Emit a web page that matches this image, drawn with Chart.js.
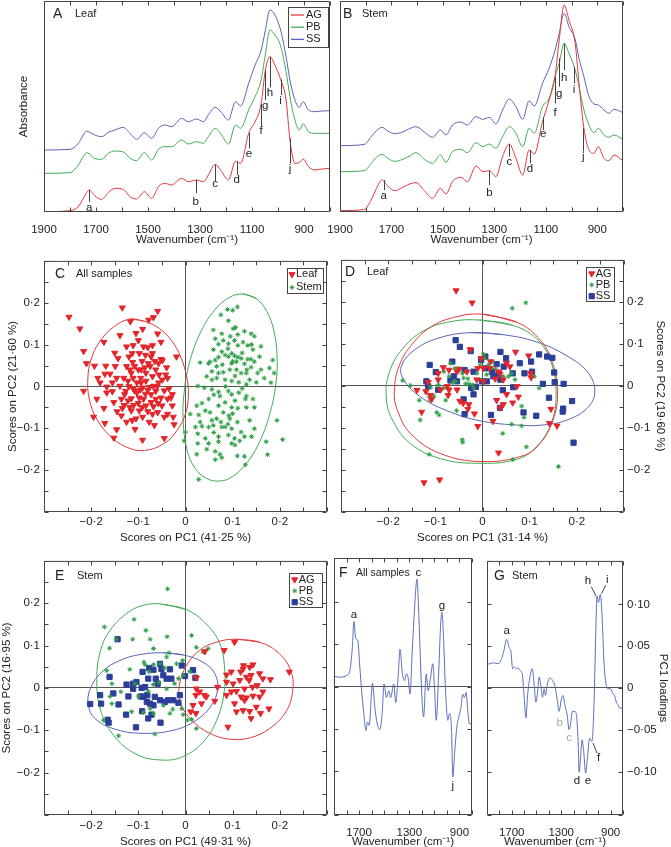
<!DOCTYPE html>
<html>
<head>
<meta charset="utf-8">
<script src="https://cdn.jsdelivr.net/npm/chart.js@4.4.1/dist/chart.umd.min.js"></script>
<style>
body { margin: 0; background: #fff; width: 671px; height: 847px; overflow: hidden; position: relative; }
canvas { position: absolute; }
</style>
</head>
<body>
<canvas id="cA" style="left:0;top:0" width="333" height="252"></canvas>
<canvas id="cB" style="left:320px;top:0" width="306" height="252"></canvas>
<canvas id="cC" style="left:0;top:250px" width="332" height="296"></canvas>
<canvas id="cD" style="left:336px;top:250px" width="335" height="296"></canvas>
<canvas id="cE" style="left:0;top:550px" width="332" height="300"></canvas>
<canvas id="cF" style="left:330px;top:550px" width="145" height="300"></canvas>
<canvas id="cG" style="left:483px;top:550px" width="188" height="300"></canvas>
<script>
// ---- spectra (A leaf, B stem) ----
const wnA = [1900,1800,1768,1749,1736,1726,1704,1678,1653,1627,1595,1569,1544,1514,1486,1460,1435,1409,1371,1345,1313,1287,1268,1242,1217,1191,1163,1144,1112,1088,1065,1049,1031,1012,990,969,954,935,918,903,883,858,832,800];
const agLeaf = [0.001,0.004,0.016,0.041,0.058,0.066,0.048,0.038,0.058,0.071,0.068,0.046,0.039,0.061,0.041,0.076,0.086,0.081,0.101,0.091,0.096,0.091,0.111,0.143,0.121,0.096,0.153,0.146,0.238,0.271,0.324,0.424,0.466,0.441,0.398,0.336,0.216,0.146,0.148,0.159,0.136,0.126,0.129,0.131];
const pbLeaf = [0.116,0.118,0.141,0.166,0.178,0.174,0.160,0.158,0.176,0.183,0.180,0.161,0.154,0.178,0.156,0.188,0.196,0.196,0.216,0.204,0.211,0.206,0.226,0.251,0.231,0.204,0.261,0.251,0.308,0.346,0.396,0.471,0.546,0.531,0.498,0.421,0.346,0.276,0.246,0.264,0.241,0.236,0.236,0.236];
const ssLeaf = [0.186,0.188,0.206,0.231,0.243,0.240,0.231,0.226,0.239,0.246,0.254,0.236,0.218,0.238,0.221,0.251,0.261,0.256,0.281,0.271,0.279,0.271,0.291,0.314,0.298,0.276,0.331,0.318,0.388,0.441,0.484,0.544,0.606,0.591,0.546,0.466,0.396,0.336,0.314,0.331,0.306,0.301,0.303,0.304];

const wnB = [1900,1805,1779,1758,1737,1714,1688,1656,1630,1605,1572,1540,1510,1488,1463,1430,1405,1371,1345,1319,1294,1268,1242,1216,1190,1165,1145,1113,1087,1064,1048,1029,1010,986,971,952,932,913,896,874,855,835,800];
const agStem = [0.004,0.008,0.036,0.071,0.096,0.078,0.064,0.074,0.084,0.088,0.064,0.041,0.071,0.054,0.091,0.104,0.091,0.138,0.121,0.124,0.106,0.166,0.204,0.161,0.111,0.186,0.174,0.271,0.336,0.408,0.516,0.621,0.576,0.506,0.386,0.251,0.186,0.176,0.196,0.161,0.154,0.171,0.154];
const pbStem = [0.121,0.124,0.146,0.164,0.173,0.161,0.152,0.158,0.168,0.178,0.158,0.146,0.171,0.149,0.181,0.188,0.178,0.208,0.196,0.204,0.191,0.226,0.256,0.236,0.196,0.251,0.236,0.316,0.341,0.406,0.446,0.506,0.476,0.426,0.376,0.306,0.261,0.238,0.251,0.231,0.224,0.231,0.218];
const ssStem = [0.199,0.203,0.226,0.244,0.254,0.243,0.235,0.240,0.250,0.256,0.240,0.224,0.246,0.231,0.261,0.270,0.261,0.286,0.278,0.284,0.264,0.306,0.339,0.316,0.278,0.334,0.318,0.386,0.431,0.486,0.536,0.596,0.556,0.518,0.461,0.406,0.346,0.324,0.321,0.306,0.296,0.308,0.298];

// band markers a-j
const peakLetters = ['a','b','c','d','e','f','g','h','i','j'];
const peakWnA  = [1726,1317,1242,1159,1112,1065,1049,1031,990,954];
const peakTopA = [0.066,0.096,0.141,0.151,0.238,0.324,0.424,0.466,0.398,0.221];
const peakBotA = [0.031,0.056,0.091,0.111,0.191,0.256,0.336,0.374,0.351,0.146];
const peakTxtA = [0.014,0.031,0.086,0.096,0.174,0.244,0.318,0.358,0.334,0.131];
const peakWnB  = [1730,1319,1242,1162,1110,1064,1048,1029,990,954];
const peakTopB = [0.096,0.124,0.204,0.186,0.285,0.406,0.461,0.506,0.436,0.251];
const peakBotB = [0.066,0.081,0.166,0.146,0.246,0.326,0.376,0.426,0.386,0.181];
const peakTxtB = [0.048,0.058,0.151,0.131,0.234,0.298,0.356,0.404,0.368,0.166];

// ---- PCA scores ----
const cLeaf = [[-0.247,0.166],[-0.224,0.138],[-0.216,0.084],[-0.210,0.055],[-0.216,-0.011],[-0.195,-0.073],[-0.188,-0.030],[-0.193,0.049],[-0.186,0.020],[-0.169,0.049],[-0.171,0.030],[-0.167,-0.015],[-0.173,-0.052],[-0.171,-0.088],[-0.173,0.106],[-0.149,0.048],[-0.146,0.020],[-0.155,-0.012],[-0.152,-0.038],[-0.146,-0.103],[-0.152,-0.123],[-0.139,0.122],[-0.134,0.188],[-0.117,0.155],[-0.120,0.071],[-0.125,0.048],[-0.131,0.020],[-0.127,-0.011],[-0.136,-0.030],[-0.134,-0.052],[-0.136,-0.070],[-0.125,-0.085],[-0.118,-0.050],[-0.113,-0.081],[-0.107,-0.102],[-0.091,-0.128],[-0.113,0.079],[-0.111,0.098],[-0.105,0.127],[-0.091,0.137],[-0.078,0.159],[-0.068,0.165],[-0.059,0.180],[-0.070,0.098],[-0.080,0.093],[-0.089,0.095],[-0.098,0.079],[-0.079,0.055],[-0.070,0.079],[-0.059,0.126],[-0.057,0.055],[-0.052,0.065],[-0.049,0.062],[-0.056,0.028],[-0.042,0.028],[-0.038,0.020],[-0.049,0.016],[-0.057,0.009],[-0.068,0.001],[-0.080,-0.009],[-0.091,-0.003],[-0.103,0.009],[-0.111,0.020],[-0.103,-0.015],[-0.098,-0.027],[-0.089,-0.030],[-0.084,-0.046],[-0.073,-0.038],[-0.063,-0.030],[-0.052,-0.027],[-0.050,-0.046],[-0.059,-0.062],[-0.070,-0.066],[-0.077,-0.085],[-0.066,-0.093],[-0.045,-0.073],[-0.038,-0.030],[-0.031,-0.027],[-0.028,-0.019],[-0.024,-0.091],[-0.045,-0.124],[-0.019,0.071],[-0.052,0.106],[-0.070,0.024],[-0.084,0.032],[-0.094,0.040],[-0.108,0.048],[-0.115,0.032],[-0.122,0.013],[-0.111,-0.005],[-0.129,-0.019],[-0.139,0.001],[-0.155,0.009],[-0.167,-0.001],[-0.181,0.009],[-0.143,0.067],[-0.122,-0.034],[-0.115,-0.058],[-0.098,-0.058],[-0.091,-0.073],[-0.105,-0.077],[-0.073,-0.019],[-0.063,-0.011],[-0.084,0.013],[-0.094,0.009],[-0.115,-0.029],[-0.073,0.071],[-0.063,0.040],[-0.028,-0.046],[-0.038,-0.066],[-0.026,-0.073],[-0.118,0.040],[-0.112,0.058],[-0.100,0.040],[-0.092,0.060],[-0.086,0.045],[-0.075,0.048],[-0.065,0.060],[-0.120,0.000],[-0.108,-0.010],[-0.096,-0.008],[-0.085,-0.018],[-0.076,-0.002],[-0.060,0.000],[-0.130,-0.045],[-0.110,-0.045],[-0.100,-0.040],[-0.092,-0.050],[-0.080,-0.060],[-0.068,-0.048],[-0.058,-0.040],[-0.145,-0.060],[-0.160,0.030],[-0.150,0.080],[-0.100,0.110],[-0.085,0.075],[-0.040,0.045],[-0.035,-0.005],[-0.045,-0.010],[-0.125,0.095],[-0.095,0.020]];
const cStem = [[0.110,0.190],[0.100,0.182],[0.089,0.184],[0.075,0.171],[0.091,0.157],[0.106,0.141],[0.101,0.138],[0.059,0.135],[0.077,0.126],[0.125,0.132],[0.139,0.126],[0.146,0.120],[0.111,0.124],[0.063,0.114],[0.104,0.110],[0.122,0.106],[0.132,0.098],[0.111,0.098],[0.070,0.101],[0.091,0.102],[0.160,0.096],[0.143,0.088],[0.059,0.088],[0.077,0.083],[0.098,0.079],[0.104,0.073],[0.111,0.070],[0.118,0.067],[0.132,0.065],[0.139,0.065],[0.091,0.071],[0.084,0.075],[0.070,0.070],[0.063,0.063],[0.052,0.059],[0.031,0.057],[0.066,0.048],[0.078,0.052],[0.098,0.055],[0.108,0.059],[0.125,0.054],[0.139,0.046],[0.146,0.059],[0.157,0.071],[0.185,0.063],[0.178,0.044],[0.160,0.040],[0.153,0.032],[0.129,0.032],[0.118,0.032],[0.108,0.040],[0.094,0.040],[0.080,0.034],[0.070,0.032],[0.056,0.036],[0.049,0.055],[0.045,0.024],[0.066,0.020],[0.084,0.016],[0.098,0.013],[0.113,0.010],[0.136,0.016],[0.167,0.020],[0.188,0.032],[0.181,0.009],[0.129,0.005],[0.026,0.001],[0.040,-0.003],[0.056,-0.007],[0.070,-0.013],[0.091,-0.011],[0.098,-0.019],[0.113,-0.015],[0.129,-0.023],[0.127,-0.030],[0.143,-0.030],[0.105,-0.034],[0.084,-0.038],[0.049,-0.030],[0.024,-0.046],[0.042,-0.058],[0.070,-0.046],[0.098,-0.050],[0.111,-0.052],[0.129,-0.050],[0.146,-0.050],[0.092,-0.070],[0.094,-0.077],[0.080,-0.062],[0.010,-0.066],[0.028,-0.068],[0.056,-0.081],[0.066,-0.077],[0.110,-0.085],[0.136,-0.081],[0.194,-0.081],[0.021,-0.097],[0.035,-0.095],[0.049,-0.097],[0.059,-0.093],[0.077,-0.097],[0.084,-0.097],[0.098,-0.101],[0.118,-0.109],[0.146,-0.101],[0.125,-0.120],[0.000,-0.109],[0.026,-0.113],[0.042,-0.124],[0.070,-0.120],[0.091,-0.116],[0.104,-0.124],[0.098,-0.136],[0.105,-0.140],[0.070,-0.132],[0.049,-0.136],[0.026,-0.136],[-0.003,-0.130],[0.171,-0.132],[0.206,-0.127],[0.024,-0.162],[0.063,-0.155],[0.073,-0.162],[0.077,-0.170],[0.063,-0.175],[0.110,-0.166],[0.125,-0.167],[0.174,-0.163],[0.127,-0.187],[0.028,-0.222],[0.056,0.016],[0.031,-0.085],[0.052,-0.062],[0.073,-0.023],[0.100,0.060],[0.120,0.080],[0.090,0.090],[0.130,0.040],[0.105,0.025],[0.085,0.000],[0.120,-0.005],[0.060,-0.020],[0.075,-0.085],[0.090,-0.090],[0.060,-0.110],[0.115,-0.130],[0.140,0.100],[0.080,0.110],[0.095,0.120],[0.150,0.010],[0.035,-0.040],[0.100,-0.065],[0.140,-0.120],[0.045,-0.150]];
const cLeafEll = [[-0.118,0.161],[-0.085,0.155],[-0.055,0.138],[-0.030,0.110],[-0.010,0.070],[0.003,0.020],[0.006,-0.023],[0.000,-0.065],[-0.018,-0.105],[-0.045,-0.136],[-0.087,-0.153],[-0.125,-0.145],[-0.160,-0.118],[-0.188,-0.078],[-0.204,-0.030],[-0.207,0.020],[-0.200,0.065],[-0.183,0.105],[-0.155,0.140]];
const cStemEll = [[0.122,0.221],[0.150,0.210],[0.172,0.180],[0.187,0.135],[0.194,0.075],[0.192,0.010],[0.180,-0.060],[0.160,-0.125],[0.132,-0.180],[0.100,-0.215],[0.073,-0.226],[0.045,-0.220],[0.020,-0.195],[0.003,-0.150],[-0.005,-0.080],[-0.003,-0.015],[0.008,0.055],[0.030,0.125],[0.060,0.180],[0.092,0.212]];

const dAG = [[-0.056,0.227],[-0.022,0.198],[0.070,0.081],[0.098,0.072],[-0.026,0.087],[-0.003,0.066],[0.017,0.058],[0.051,0.054],[0.058,0.046],[0.034,0.034],[0.016,0.042],[0.002,0.042],[-0.010,0.042],[-0.033,0.034],[-0.050,0.040],[-0.054,0.034],[-0.071,0.038],[-0.083,0.044],[-0.094,0.030],[-0.094,0.015],[-0.115,0.009],[-0.139,-0.010],[-0.120,-0.013],[-0.110,-0.022],[-0.089,-0.009],[-0.075,-0.001],[-0.071,-0.009],[-0.073,-0.022],[-0.054,-0.009],[-0.048,-0.036],[-0.041,-0.041],[-0.029,-0.044],[-0.031,-0.055],[-0.017,-0.066],[-0.010,-0.096],[0.022,-0.084],[0.030,-0.034],[0.038,-0.052],[0.044,-0.044],[0.051,-0.020],[0.064,-0.040],[0.076,-0.026],[0.073,-0.001],[0.044,0.015],[0.027,0.017],[0.037,0.029],[0.103,0.020],[0.102,0.030],[0.145,-0.055],[0.142,-0.089],[0.158,-0.095],[0.034,-0.159],[-0.124,-0.230],[-0.091,-0.223],[-0.129,-0.062],[-0.108,-0.032],[0.002,0.011],[-0.012,0.015]];
const dPB = [[0.063,0.185],[0.092,0.198],[-0.169,0.013],[-0.153,0.001],[-0.134,-0.034],[-0.132,-0.081],[-0.113,-0.024],[-0.111,-0.034],[-0.103,-0.024],[-0.097,-0.063],[-0.092,-0.069],[-0.078,-0.034],[-0.082,0.034],[-0.071,0.023],[-0.064,0.007],[-0.055,-0.059],[-0.059,0.042],[-0.043,0.030],[-0.040,0.019],[-0.036,0.005],[-0.043,-0.128],[-0.042,-0.134],[-0.113,-0.163],[-0.029,0.005],[-0.022,0.003],[-0.012,0.030],[-0.005,0.050],[0.002,0.075],[0.004,0.066],[0.013,0.050],[0.022,0.058],[0.027,0.042],[0.044,0.023],[0.055,0.023],[0.062,0.030],[0.069,0.015],[0.043,-0.113],[0.064,-0.175],[0.083,-0.048],[0.088,-0.075],[0.083,-0.095],[0.093,-0.145],[0.110,0.023],[0.120,-0.005],[0.161,-0.192],[-0.001,0.015],[0.009,0.027],[-0.057,0.011],[-0.082,-0.005],[-0.094,0.003],[-0.110,-0.003],[-0.050,0.042],[-0.019,-0.005],[-0.031,0.017],[-0.068,0.054],[0.062,-0.091]];
const dSS = [[-0.057,0.109],[-0.048,0.093],[-0.025,0.083],[-0.112,0.050],[-0.099,0.033],[-0.119,0.011],[-0.115,-0.001],[-0.094,-0.009],[-0.064,0.058],[-0.061,0.023],[-0.068,0.013],[-0.054,0.011],[-0.038,0.038],[-0.038,-0.067],[-0.019,0.034],[-0.024,-0.005],[-0.014,-0.002],[-0.003,0.062],[0.006,0.070],[0.008,0.042],[-0.001,0.011],[0.009,0.011],[0.020,0.034],[0.023,0.023],[0.030,0.052],[0.038,0.081],[0.034,0.029],[0.038,0.015],[0.043,-0.010],[0.018,-0.069],[0.037,-0.052],[0.045,0.046],[0.050,0.066],[0.064,0.030],[0.065,-0.003],[0.079,0.054],[0.087,-0.063],[0.089,0.030],[0.103,0.058],[0.105,0.034],[0.120,0.075],[0.114,-0.071],[0.128,0.005],[0.141,-0.028],[0.137,0.070],[0.148,0.067],[0.152,0.032],[0.153,0.009],[0.172,0.005],[0.171,-0.054],[0.170,-0.061],[0.190,-0.036],[0.193,-0.135],[-0.019,-0.020],[-0.040,-0.032]];
const dAGEll = [[-0.001,0.171],[0.072,0.152],[0.117,0.116],[0.145,0.066],[0.159,-0.013],[0.149,-0.083],[0.121,-0.138],[0.086,-0.166],[-0.001,-0.180],[-0.089,-0.161],[-0.152,-0.114],[-0.180,-0.059],[-0.187,-0.013],[-0.176,0.050],[-0.148,0.101],[-0.110,0.140],[-0.061,0.163]];
const dPBEll = [[-0.008,0.157],[0.062,0.145],[0.114,0.113],[0.145,0.058],[0.156,-0.020],[0.145,-0.091],[0.114,-0.145],[0.072,-0.175],[-0.012,-0.184],[-0.089,-0.173],[-0.152,-0.138],[-0.190,-0.083],[-0.204,-0.028],[-0.197,0.034],[-0.169,0.089],[-0.124,0.132],[-0.068,0.153]];
const dSSEll = [[-0.026,0.127],[0.044,0.122],[0.114,0.105],[0.177,0.073],[0.222,0.034],[0.238,-0.009],[0.226,-0.048],[0.184,-0.079],[0.128,-0.093],[0.072,-0.093],[-0.005,-0.083],[-0.075,-0.059],[-0.134,-0.024],[-0.169,0.019],[-0.171,0.050],[-0.145,0.085],[-0.096,0.113]];

const eAG = [[0.104,0.108],[0.082,0.089],[0.041,0.086],[0.220,0.038],[0.143,0.055],[0.123,0.053],[0.122,0.045],[0.136,0.049],[0.139,0.030],[0.117,0.038],[0.097,0.038],[0.087,0.031],[0.087,0.014],[0.101,0.010],[0.115,0.018],[0.129,0.026],[0.157,0.034],[0.164,0.022],[0.180,0.020],[0.152,0.006],[0.142,0.002],[0.125,-0.002],[0.108,-0.008],[0.087,-0.017],[0.118,-0.021],[0.129,-0.023],[0.143,-0.019],[0.164,-0.009],[0.157,-0.021],[0.104,-0.037],[0.122,-0.053],[0.108,-0.056],[0.136,-0.055],[0.150,-0.045],[0.177,-0.049],[0.159,-0.060],[0.139,-0.072],[0.090,-0.092],[0.062,-0.031],[0.044,-0.021],[0.040,-0.017],[0.030,-0.009],[0.023,-0.002],[0.022,-0.017],[0.034,-0.037],[0.016,-0.041],[0.011,-0.056],[0.022,-0.060],[0.023,0.024],[0.068,0.002],[0.125,-0.029],[0.097,-0.009],[0.135,0.018]];
const ePB = [[-0.038,0.234],[-0.109,0.162],[-0.172,0.144],[-0.084,0.136],[-0.147,0.115],[-0.112,0.115],[-0.075,0.115],[-0.039,0.121],[0.013,0.124],[-0.161,0.094],[-0.068,0.093],[-0.035,0.083],[-0.040,0.073],[-0.088,0.061],[-0.118,0.044],[-0.167,0.041],[-0.086,0.055],[-0.077,0.038],[-0.068,0.055],[-0.054,0.057],[-0.044,0.047],[-0.019,0.057],[-0.006,0.065],[-0.015,0.022],[-0.056,0.013],[-0.068,0.008],[-0.079,-0.008],[-0.100,-0.019],[-0.107,0.010],[-0.137,-0.009],[-0.160,-0.020],[-0.156,-0.037],[-0.114,-0.056],[-0.089,-0.058],[-0.068,-0.060],[-0.033,-0.060],[-0.027,-0.050],[-0.008,-0.049],[-0.005,-0.063],[0.004,-0.076],[0.013,-0.074],[0.023,-0.096],[-0.065,-0.109],[-0.142,-0.113],[-0.174,-0.076],[-0.156,0.010],[-0.047,-0.041],[-0.075,-0.049],[-0.023,0.010],[-0.040,-0.002],[-0.005,0.030],[0.009,0.039],[0.037,0.085],[0.048,0.093],[0.023,0.096]];
const eSS = [[-0.144,0.115],[-0.161,0.026],[-0.181,-0.017],[-0.179,-0.037],[-0.202,-0.038],[-0.153,-0.013],[-0.142,-0.039],[-0.165,-0.075],[-0.163,-0.082],[-0.121,-0.020],[-0.126,-0.063],[-0.125,0.008],[-0.111,0.010],[-0.104,0.014],[-0.091,0.038],[-0.095,-0.020],[-0.092,-0.055],[-0.105,-0.093],[-0.089,-0.021],[-0.081,-0.017],[-0.086,0.002],[-0.077,0.047],[-0.079,0.022],[-0.068,0.043],[-0.063,0.022],[-0.059,0.010],[-0.054,0.057],[-0.051,0.045],[-0.047,0.030],[-0.082,-0.033],[-0.075,-0.037],[-0.068,-0.041],[-0.072,-0.063],[-0.079,-0.072],[-0.053,-0.082],[-0.054,-0.029],[-0.044,-0.033],[-0.037,-0.029],[-0.033,0.044],[-0.030,0.022],[-0.026,-0.029],[-0.015,-0.035],[-0.008,0.053],[-0.001,0.028],[0.016,0.042],[0.021,0.024],[-0.012,-0.017],[-0.040,0.022],[-0.065,-0.021],[-0.093,0.000],[-0.111,-0.002]];
const eAGEll = [[0.104,0.115],[0.157,0.108],[0.199,0.081],[0.224,0.038],[0.227,-0.009],[0.213,-0.056],[0.178,-0.096],[0.136,-0.118],[0.094,-0.121],[0.051,-0.107],[0.013,-0.076],[-0.010,-0.037],[-0.013,0.006],[0.002,0.053],[0.030,0.089],[0.065,0.108]];
const ePBEll = [[-0.051,0.198],[0.002,0.185],[0.044,0.151],[0.073,0.104],[0.083,0.045],[0.082,-0.009],[0.069,-0.068],[0.041,-0.123],[-0.005,-0.162],[-0.054,-0.170],[-0.107,-0.155],[-0.153,-0.111],[-0.181,-0.049],[-0.188,0.022],[-0.181,0.085],[-0.160,0.136],[-0.121,0.179],[-0.086,0.196]];
const eSSEll = [[-0.047,0.083],[-0.005,0.078],[0.037,0.061],[0.062,0.034],[0.068,-0.002],[0.055,-0.041],[0.023,-0.076],[-0.026,-0.100],[-0.096,-0.107],[-0.153,-0.096],[-0.192,-0.072],[-0.206,-0.041],[-0.202,-0.002],[-0.177,0.038],[-0.139,0.065],[-0.096,0.079]];

// ---- PC1 loadings ----
const wnF = [1900,1852,1799,1773,1754,1741,1728,1720,1710,1694,1680,1662,1646,1633,1620,1593,1575,1556,1535,1516,1501,1482,1463,1448,1424,1408,1389,1374,1355,1337,1323,1310,1294,1276,1257,1239,1223,1204,1186,1165,1149,1130,1112,1098,1085,1067,1051,1040,1027,1011,993,979,963,953,937,921,905,887,874,860,847,834,821,800];
const loadF = [0.012,0.011,0.013,0.019,0.046,0.077,0.058,0.056,0.054,0.023,-0.005,-0.032,-0.052,-0.042,-0.046,0.004,-0.024,-0.044,-0.051,-0.032,0.003,-0.013,-0.005,-0.013,0.003,-0.019,0.011,0.044,0.015,0.007,0.015,0.011,-0.009,0.043,0.094,0.127,0.082,0.003,-0.036,0.015,-0.005,0.011,0.027,-0.005,-0.040,0.011,0.070,0.088,0.058,-0.005,-0.040,-0.032,-0.052,-0.107,-0.076,-0.048,-0.036,-0.024,-0.009,-0.013,-0.007,-0.028,-0.044,-0.044];
const wnG = [1900,1849,1809,1782,1763,1741,1720,1706,1693,1680,1661,1647,1634,1615,1602,1585,1572,1553,1534,1518,1505,1491,1478,1465,1451,1438,1427,1411,1392,1370,1352,1333,1317,1298,1284,1271,1252,1236,1225,1209,1190,1177,1163,1155,1142,1131,1118,1102,1088,1069,1051,1034,1021,1010,999,983,970,954,940,922,900,881,868,854,841,827,800];
const loadG = [0.028,0.030,0.029,0.035,0.045,0.058,0.048,0.043,0.023,0.025,0.023,0.024,0.021,0.017,-0.005,-0.036,-0.009,0.013,0.023,0.003,-0.017,-0.005,0.013,0.003,-0.011,-0.001,-0.009,0.005,0.012,0.009,0.003,-0.013,-0.028,-0.013,-0.009,-0.020,-0.032,-0.050,-0.044,-0.028,-0.028,-0.032,-0.064,-0.101,-0.080,-0.062,-0.076,-0.102,-0.084,-0.060,-0.064,-0.017,0.062,0.110,0.102,0.112,0.088,0.031,0.007,-0.001,-0.001,-0.007,-0.009,-0.017,-0.020,-0.024,-0.024];
const fPeakLet = ['a','c','g','j'];
const fPeakWn = [1741,1228,1040,953];
const fPeakTy = [0.085,0.135,0.095,-0.118];
const gPeakLet = ['a','b','c','d','e','f','h','i'];
const gPeakWn = [1741,1311,1236,1172,1083,997,1083,927];
const gPeakTy = [0.068,-0.042,-0.060,-0.111,-0.111,-0.084,0.128,0.129];
const gPeakCol = ['#222','#aaa','#aaa','#222','#222','#222','#222','#222'];
const gLeaders = {f: [1042,-0.066,1010,-0.078], h: [1056,0.121,1019,0.110], i: [940,0.123,973,0.113]};

// tick labels
const wnLabelsAB = [1900,1700,1500,1300,1100,900];
const wnLabelsFG = [1700,1300,900];
const scoreLabels = [-0.2,-0.1,0,0.1,0.2];
const loadLabels = [-0.1,-0.05,0,0.05,0.1];

const FONT = "'Liberation Sans', Arial, Helvetica, sans-serif";
Chart.defaults.font.family = FONT;
Chart.defaults.font.size = 11.5;
Chart.defaults.color = '#222';

const RED = '#e3262b', GRN = '#2f9e46', BLU = '#2b3f98';
const LRED = '#e0393e', LGRN = '#42aa55', LBLU = '#5864b6', LOAD = '#5a6fb8';

const xy = (xs, ys) => xs.map((x, i) => ({x: x, y: ys[i]}));
const pts = arr => arr.map(p => ({x: p[0], y: p[1]}));
const ring = arr => pts(arr.concat([arr[0], arr[1]]));
const has = (list, v) => list.some(l => Math.abs(l - v) < 1e-6);

function dotNum(v, d) {
    if (Math.abs(v) < 1e-9) return '0';
    const s = Math.abs(v).toFixed(d).replace('.', '·');
    return v < 0 ? '−' + s : s;
}
const zeroLine = c => (c.tick && Math.abs(c.tick.value) < 1e-9) ? '#555' : 'rgba(0,0,0,0)';

// markers, also used for the inset legends
function marker(ctx, ds, x, y) {
    const r = ds.pointRadius;
    ctx.fillStyle = ds.backgroundColor; ctx.strokeStyle = ds.borderColor; ctx.lineWidth = ds.borderWidth;
    ctx.beginPath();
    if (ds.pointStyle === 'triangle') {
        ctx.moveTo(x, y + r); ctx.lineTo(x - r * 0.866, y - r / 2); ctx.lineTo(x + r * 0.866, y - r / 2); ctx.closePath();
        ctx.fill(); ctx.stroke();
    } else if (ds.pointStyle === 'rect') {
        const s = r * Math.SQRT1_2;
        ctx.rect(x - s, y - s, 2 * s, 2 * s); ctx.fill(); ctx.stroke();
    } else {
        ctx.moveTo(x - r, y); ctx.lineTo(x + r, y); ctx.moveTo(x, y - r); ctx.lineTo(x, y + r);
        const q = r * Math.SQRT1_2;
        ctx.moveTo(x - q, y - q); ctx.lineTo(x + q, y + q); ctx.moveTo(x - q, y + q); ctx.lineTo(x + q, y - q);
        ctx.stroke();
    }
}

// frame with inward ticks, panel texts, band labels, inset legend
function decor(cfg) {
    return {
        id: 'decor',
        afterDatasetsDraw(chart) {
            const ctx = chart.ctx, a = chart.chartArea, sx = chart.scales.x, sy = chart.scales.y;
            ctx.save();
            ctx.lineWidth = 1;
            (cfg.peaks || []).forEach(p => {
                ctx.strokeStyle = '#444';
                if (p.bot !== undefined) {
                    const x = Math.round(sx.getPixelForValue(p.wn)) + 0.5;
                    ctx.beginPath(); ctx.moveTo(x, sy.getPixelForValue(p.top)); ctx.lineTo(x, sy.getPixelForValue(p.bot)); ctx.stroke();
                }
                if (p.lead) {
                    ctx.beginPath();
                    ctx.moveTo(sx.getPixelForValue(p.lead[0]), sy.getPixelForValue(p.lead[1]));
                    ctx.lineTo(sx.getPixelForValue(p.lead[2]), sy.getPixelForValue(p.lead[3]));
                    ctx.stroke();
                }
                ctx.fillStyle = p.color || '#222';
                ctx.font = '11.5px ' + FONT; ctx.textAlign = 'center'; ctx.textBaseline = 'middle';
                ctx.fillText(p.t, sx.getPixelForValue(p.wn), sy.getPixelForValue(p.ty));
            });

            const L = a.left + 0.5, R = a.right - 0.5, T = a.top + 0.5, B = a.bottom - 0.5;
            ctx.strokeStyle = '#444';
            ctx.beginPath();
            ctx.rect(L, T, R - L, B - T);
            if (cfg.xTicks) sx.ticks.forEach(t => {
                const x = Math.round(sx.getPixelForValue(t.value)) + 0.5;
                ctx.moveTo(x, B); ctx.lineTo(x, B - 4); ctx.moveTo(x, T); ctx.lineTo(x, T + 4);
            });
            if (cfg.yTicks) sy.ticks.forEach(t => {
                const y = Math.round(sy.getPixelForValue(t.value)) + 0.5;
                ctx.moveTo(L, y); ctx.lineTo(L + 4, y); ctx.moveTo(R, y); ctx.lineTo(R - 4, y);
            });
            ctx.stroke();

            (cfg.texts || []).forEach(t => {
                ctx.font = t.size + 'px ' + FONT; ctx.fillStyle = '#222';
                ctx.textAlign = 'left'; ctx.textBaseline = 'middle';
                ctx.fillText(t.text, a.left + t.x, a.top + t.y);
            });

            if (cfg.legend) {
                const g = cfg.legend, bx = a.left + g.x, by = a.top + g.y;
                ctx.fillStyle = '#fff'; ctx.fillRect(bx, by, g.w, g.h);
                ctx.strokeStyle = '#444'; ctx.lineWidth = 1;
                ctx.strokeRect(Math.round(bx) + 0.5, Math.round(by) + 0.5, g.w, g.h);
                g.sets.forEach((di, i) => {
                    const ds = chart.data.datasets[di], y = by + g.first + i * g.step;
                    if (g.kind === 'line') {
                        ctx.strokeStyle = ds.borderColor; ctx.lineWidth = 1.3;
                        ctx.beginPath(); ctx.moveTo(bx + g.m0, y); ctx.lineTo(bx + g.m1, y); ctx.stroke();
                    } else {
                        marker(ctx, ds, bx + g.m0, y);
                    }
                    ctx.fillStyle = '#222'; ctx.font = '11px ' + FONT;
                    ctx.textAlign = 'left'; ctx.textBaseline = 'middle';
                    ctx.fillText(ds.label, bx + g.tx, y);
                });
            }
            ctx.restore();
        }
    };
}

function base(padding, scales) {
    return {
        responsive: false, animation: false, devicePixelRatio: 1, events: [],
        layout: {padding: padding},
        plugins: {legend: {display: false}, tooltip: {enabled: false}},
        scales: scales
    };
}

function spec(label, xs, ys, color) {
    return {label: label, data: xy(xs, ys), borderColor: color, borderWidth: 1, pointRadius: 0,
        cubicInterpolationMode: 'monotone', fill: false};
}
function tri(label, data) {
    return {label: label, data: pts(data), pointStyle: 'triangle', rotation: 180, pointRadius: 3.5,
        borderWidth: 1, backgroundColor: RED, borderColor: RED};
}
function star(label, data) {
    return {label: label, data: pts(data), pointStyle: 'star', pointRadius: 2.4,
        borderWidth: 1, backgroundColor: GRN, borderColor: GRN};
}
function sq(label, data) {
    return {label: label, data: pts(data), pointStyle: 'rect', pointRadius: 3.7,
        borderWidth: 1, backgroundColor: BLU, borderColor: BLU};
}
function ell(data, color) {
    return {type: 'line', data: ring(data), borderColor: color, borderWidth: 1, pointRadius: 0, tension: 0.4, fill: false};
}

function wnAxis(h, tickPad, titlePad, labels) {
    return {
        type: 'linear', reverse: true, min: 800, max: 1900,
        afterFit: s => { s.height = h; },
        ticks: {stepSize: 100, autoSkip: false, maxRotation: 0, maxTicksLimit: 100, padding: tickPad,
            callback: v => has(labels, v) ? String(v) : ''},
        grid: {display: false}, border: {display: false},
        title: {display: true, text: 'Wavenumber (cm⁻¹)', padding: {top: 0, bottom: titlePad}}
    };
}
function hiddenY(min, max, step, zero) {
    return {
        type: 'linear', min: min, max: max, afterFit: s => { s.width = 0; },
        ticks: {display: false, stepSize: step, maxTicksLimit: 100},
        grid: zero ? {drawTicks: false, color: zeroLine} : {display: false},
        border: {display: false}
    };
}
function scoreX(h, tickPad, title, titlePad) {
    return {
        type: 'linear', min: -0.3, max: 0.3, afterFit: s => { s.height = h; },
        ticks: {stepSize: 0.05, autoSkip: false, maxRotation: 0, maxTicksLimit: 100, padding: tickPad,
            callback: v => has(scoreLabels, v) ? dotNum(v, 1) : ''},
        grid: {drawTicks: false, color: zeroLine}, border: {display: false},
        title: {display: true, text: title, padding: {top: 0, bottom: titlePad}}
    };
}
function scoreY(pos, w, tickPad, title, titlePad) {
    return {
        type: 'linear', position: pos, min: -0.3, max: 0.3, afterFit: s => { s.width = w; },
        ticks: {stepSize: 0.05, autoSkip: false, maxTicksLimit: 100, padding: tickPad,
            callback: v => has(scoreLabels, v) ? dotNum(v, 1) : ''},
        grid: {drawTicks: false, color: zeroLine}, border: {display: false},
        title: {display: true, text: title, padding: {top: titlePad, bottom: 0}}
    };
}
function peakList(letters, wn, top, bot, ty) {
    return letters.map((t, i) => ({t: t, wn: wn[i], top: top[i], bot: bot[i], ty: ty[i]}));
}

// A: leaf spectra
new Chart(document.getElementById('cA'), {
    type: 'line',
    data: {datasets: [spec('AG', wnA, agLeaf, LRED), spec('PB', wnA, pbLeaf, LGRN), spec('SS', wnA, ssLeaf, LBLU)]},
    options: base({left: 0, top: 1, right: 3, bottom: 0}, {
        x: wnAxis(40, 3, 5, wnLabelsAB),
        y: {type: 'linear', min: 0, max: 0.633, afterFit: s => { s.width = 44; },
            ticks: {display: false}, grid: {display: false}, border: {display: false},
            title: {display: true, text: 'Absorbance', padding: {top: 17, bottom: 0}}}
    }),
    plugins: [decor({
        xTicks: true,
        peaks: peakList(peakLetters, peakWnA, peakTopA, peakBotA, peakTxtA),
        texts: [{text: 'A', x: 9, y: 13, size: 14}, {text: 'Leaf', x: 31, y: 13, size: 11}],
        legend: {kind: 'line', sets: [0, 1, 2], x: 244, y: 6, w: 40, h: 40, first: 8, step: 12.2, m0: 3, m1: 16, tx: 18}
    })]
});

// B: stem spectra
new Chart(document.getElementById('cB'), {
    type: 'line',
    data: {datasets: [spec('AG', wnB, agStem, LRED), spec('PB', wnB, pbStem, LGRN), spec('SS', wnB, ssStem, LBLU)]},
    options: base({left: 20, top: 1, right: 2, bottom: 0}, {
        x: wnAxis(40, 3, 5, wnLabelsAB),
        y: hiddenY(0, 0.633, 0.1, false)
    }),
    plugins: [decor({
        xTicks: true,
        peaks: peakList(peakLetters, peakWnB, peakTopB, peakBotB, peakTxtB),
        texts: [{text: 'B', x: 3, y: 13, size: 14}, {text: 'Stem', x: 22, y: 13, size: 11}]
    })]
});

// C: all samples scores
new Chart(document.getElementById('cC'), {
    type: 'scatter',
    data: {datasets: [tri('Leaf', cLeaf), star('Stem', cStem), ell(cLeafEll, LRED), ell(cStemEll, LGRN)]},
    options: base({left: 0, top: 7, right: 4, bottom: 0}, {
        x: scoreX(34, 3, 'Scores on PC1 (41·25 %)', 1),
        y: scoreY('left', 44, 4, 'Scores on PC2 (21·60 %)', 6)
    }),
    plugins: [decor({
        xTicks: true, yTicks: true,
        texts: [{text: 'C', x: 11, y: 13, size: 14}, {text: 'All samples', x: 32, y: 13, size: 11}],
        legend: {kind: 'point', sets: [0, 1], x: 243, y: 7, w: 36, h: 25, first: 6.5, step: 13, m0: 5, tx: 9}
    })]
});

// D: leaf scores
new Chart(document.getElementById('cD'), {
    type: 'scatter',
    data: {datasets: [tri('AG', dAG), star('PB', dPB), sq('SS', dSS), ell(dAGEll, LRED), ell(dPBEll, LGRN), ell(dSSEll, LBLU)]},
    options: base({left: 5, top: 8, right: 0, bottom: 0}, {
        x: scoreX(34, 3, 'Scores on PC1 (31·14 %)', 1),
        y: scoreY('right', 47, 3, 'Scores on PC2 (19·60 %)', 4)
    }),
    plugins: [decor({
        xTicks: true, yTicks: true,
        texts: [{text: 'D', x: 4, y: 12, size: 14}, {text: 'Leaf', x: 26, y: 12, size: 11}],
        legend: {kind: 'point', sets: [0, 1, 2], x: 245, y: 7, w: 28, h: 34, first: 6.7, step: 11.3, m0: 5.7, tx: 9.7}
    })]
});

// E: stem scores
new Chart(document.getElementById('cE'), {
    type: 'scatter',
    data: {datasets: [tri('AG', eAG), star('PB', ePB), sq('SS', eSS), ell(eAGEll, LRED), ell(ePBEll, LGRN), ell(eSSEll, LBLU)]},
    options: base({left: 0, top: 8, right: 4, bottom: 0}, {
        x: scoreX(35, 4, 'Scores on PC1 (49·31 %)', 1),
        y: scoreY('left', 44, 4, 'Scores on PC2 (16·95 %)', 0)
    }),
    plugins: [decor({
        xTicks: true, yTicks: true,
        texts: [{text: 'E', x: 11, y: 15, size: 14}, {text: 'Stem', x: 33, y: 15, size: 11}],
        legend: {kind: 'point', sets: [0, 1, 2], x: 245, y: 12, w: 33, h: 34, first: 6.7, step: 11.3, m0: 5.7, tx: 9.7}
    })]
});

// F: loadings, all samples
new Chart(document.getElementById('cF'), {
    type: 'line',
    data: {datasets: [spec('PC1', wnF, loadF, LOAD)]},
    options: base({left: 4, top: 8, right: 2, bottom: 0}, {
        x: wnAxis(35, 3, 1, wnLabelsFG),
        y: hiddenY(-0.152, 0.152, 0.05, true)
    }),
    plugins: [decor({
        xTicks: true, yTicks: true,
        peaks: fPeakLet.map((t, i) => ({t: t, wn: fPeakWn[i], ty: fPeakTy[i]})),
        texts: [{text: 'F', x: 5, y: 15, size: 14}, {text: 'All samples', x: 22, y: 15, size: 10.5}]
    })]
});

// G: loadings, stem
new Chart(document.getElementById('cG'), {
    type: 'line',
    data: {datasets: [spec('PC1', wnG, loadG, LOAD)]},
    options: base({left: 4, top: 8, right: 0, bottom: 0}, {
        x: wnAxis(35, 3, 1, wnLabelsFG),
        y: {type: 'linear', position: 'right', min: -0.152, max: 0.152, afterFit: s => { s.width = 48; },
            ticks: {stepSize: 0.05, autoSkip: false, maxTicksLimit: 100, padding: 4,
                callback: v => has(loadLabels, v) ? dotNum(v, 2) : ''},
            grid: {drawTicks: false, color: zeroLine}, border: {display: false},
            title: {display: true, text: 'PC1 loadings', padding: {top: 1, bottom: 0}}}
    }),
    plugins: [decor({
        xTicks: true, yTicks: true,
        peaks: gPeakLet.map((t, i) => ({t: t, wn: gPeakWn[i], ty: gPeakTy[i], color: gPeakCol[i], lead: gLeaders[t]})),
        texts: [{text: 'G', x: 7, y: 15, size: 14}, {text: 'Stem', x: 25, y: 15, size: 11}]
    })]
});
</script>
</body>
</html>
